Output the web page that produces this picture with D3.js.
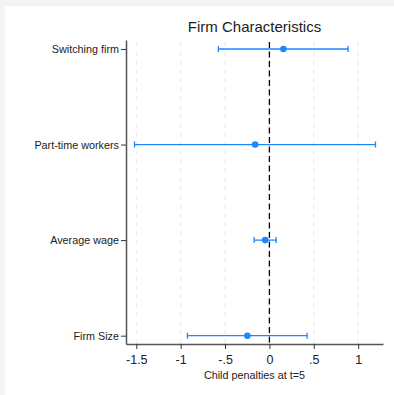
<!DOCTYPE html>
<html>
<head>
<meta charset="utf-8">
<script src="https://cdn.jsdelivr.net/npm/d3@7"></script>
<style>
  html, body { margin: 0; padding: 0; background: #f4f4f4; }
  #chart { position: absolute; left: 5px; top: 6px; width: 389px; height: 389px; background: #fff; }
  text { font-family: "Liberation Sans", Arial, sans-serif; fill: #222; }
</style>
</head>
<body>
<div id="chart"></div>
<script>
// categories, top to bottom
const labels = ['Switching firm', 'Part-time workers', 'Average wage', 'Firm Size'];
const estimates = [0.158, -0.161, -0.048, -0.248];
const lower = [-0.575, -1.52, -0.172, -0.924];
const upper = [0.887, 1.195, 0.076, 0.425];
const xTicks = [-1.5, -1, -0.5, 0, 0.5, 1];
const xTickLabels = ['-1.5', '-1', '-.5', '0', '.5', '1'];

const width = 389, height = 389;
const margin = { top: 34, right: 11, bottom: 51, left: 121 };
const plotW = width - margin.left - margin.right;
const plotH = height - margin.top - margin.bottom;
const blue = '#1f86ff';

var svg = d3.select('#chart').append('svg')
    .attr('width', width)
    .attr('height', height);

var plot = svg.append('g')
    .attr('transform', 'translate(' + margin.left + ',' + margin.top + ')');

var x = d3.scaleLinear().domain([-1.616, 1.28]).range([0, plotW]);
// y position by index: 4 at top .. 1 at bottom
var y = d3.scaleLinear().domain([0.913, 4.094]).range([plotH, 0]);
var yPos = function(i) { return y(labels.length - i); };

// grid lines
plot.selectAll('.grid').data(xTicks).enter().append('line')
    .attr('class', 'grid')
    .attr('x1', d => x(d)).attr('x2', d => x(d))
    .attr('y1', 2).attr('y2', plotH)
    .attr('stroke', '#e8e8e8')
    .attr('stroke-width', 1)
    .attr('stroke-dasharray', '5,4');

// zero line
plot.append('line')
    .attr('x1', x(0)).attr('x2', x(0))
    .attr('y1', 2).attr('y2', plotH)
    .attr('stroke', '#000')
    .attr('stroke-width', 1.3)
    .attr('stroke-dasharray', '6,3.5');

// x axis
var xAxis = d3.axisBottom(x)
    .tickValues(xTicks)
    .tickFormat((d, i) => xTickLabels[i])
    .tickSize(5)
    .tickSizeOuter(0);
var xg = plot.append('g')
    .attr('transform', 'translate(0,' + plotH + ')')
    .call(xAxis);
xg.select('.domain').attr('stroke', '#555').attr('stroke-width', 1.5);
xg.selectAll('.tick line').attr('stroke', '#333');
xg.selectAll('.tick text').attr('font-size', 12.5).attr('dy', '0.95em').style('font-family', '"Liberation Sans", Arial, sans-serif').attr('fill', '#222');

// y axis
var yAxis = d3.axisLeft(y)
    .tickValues(labels.map((d, i) => labels.length - i))
    .tickFormat(d => labels[labels.length - d])
    .tickSize(5)
    .tickSizeOuter(0);
var yg = plot.append('g').call(yAxis);
yg.select('.domain').attr('stroke', '#555').attr('stroke-width', 1.5);
yg.selectAll('.tick line').attr('stroke', '#333');
yg.selectAll('.tick text').attr('font-size', 10.8).attr('x', -7).style('font-family', '"Liberation Sans", Arial, sans-serif').attr('fill', '#222');

// error bars
var bars = plot.selectAll('.ci').data(labels).enter().append('g').attr('class', 'ci');
bars.append('line')
    .attr('x1', (d, i) => x(lower[i])).attr('x2', (d, i) => x(upper[i]))
    .attr('y1', (d, i) => yPos(i)).attr('y2', (d, i) => yPos(i))
    .attr('stroke', blue).attr('stroke-width', 1.3);
bars.append('line')
    .attr('x1', (d, i) => x(lower[i])).attr('x2', (d, i) => x(lower[i]))
    .attr('y1', (d, i) => yPos(i) - 3).attr('y2', (d, i) => yPos(i) + 3)
    .attr('stroke', blue).attr('stroke-width', 1.3);
bars.append('line')
    .attr('x1', (d, i) => x(upper[i])).attr('x2', (d, i) => x(upper[i]))
    .attr('y1', (d, i) => yPos(i) - 3).attr('y2', (d, i) => yPos(i) + 3)
    .attr('stroke', blue).attr('stroke-width', 1.3);
bars.append('circle')
    .attr('cx', (d, i) => x(estimates[i]))
    .attr('cy', (d, i) => yPos(i))
    .attr('r', 3.3)
    .attr('fill', blue);

// title
svg.append('text')
    .attr('x', margin.left + plotW / 2)
    .attr('y', 26)
    .attr('text-anchor', 'middle')
    .attr('font-size', 15)
    .text('Firm Characteristics');

// x label
svg.append('text')
    .attr('x', margin.left + plotW / 2)
    .attr('y', 373)
    .attr('text-anchor', 'middle')
    .attr('font-size', 10.8)
    .text('Child penalties at t=5');
</script>
</body>
</html>
